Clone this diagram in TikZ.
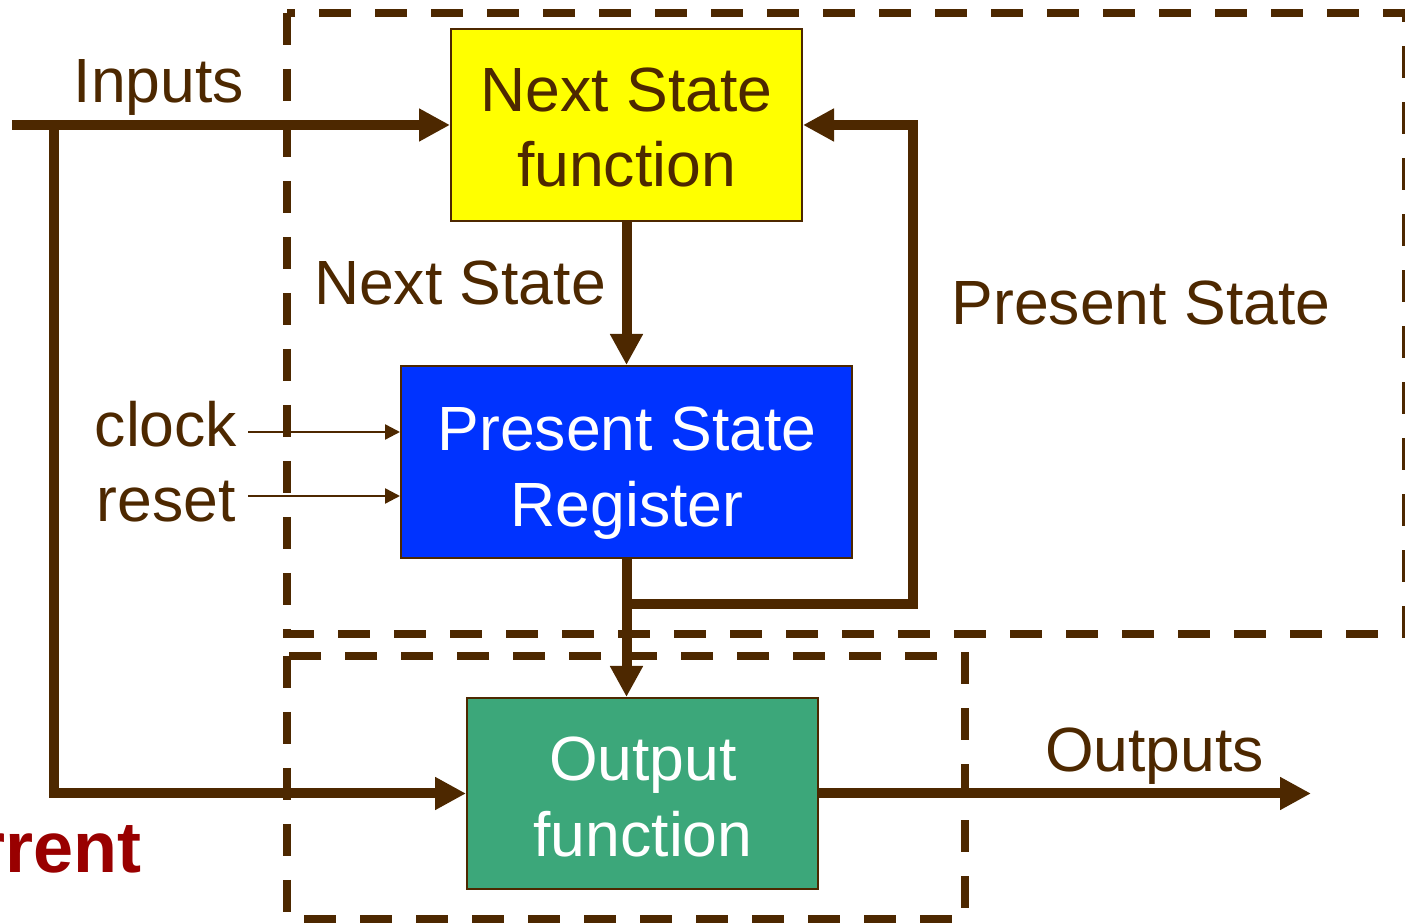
\documentclass[tikz,border=0pt]{standalone}
\usepackage{fontspec}
\setmainfont{Liberation Sans}
\usetikzlibrary{arrows.meta}

\definecolor{wire}{HTML}{4D2800}
\definecolor{nsfill}{HTML}{FFFF00}
\definecolor{regfill}{HTML}{0033FF}
\definecolor{outfill}{HTML}{3CA77A}
\definecolor{note}{HTML}{990000}

\tikzset{
  block/.style={draw=wire, line width=1pt, inner sep=0pt, rectangle},
  txt/.style={inner sep=0pt, text=wire, font=\fontsize{31.25}{37.75}\selectfont},
  bigwire/.style={draw=wire, line width=5pt, line join=miter},
  bigarrow/.style={bigwire, -{Triangle[length=15.5pt,width=15.5pt]}},
  thinarrow/.style={draw=wire, line width=1.2pt, -{Triangle[length=7.5pt,width=7.5pt]}},
  dashbox/.style={draw=wire, line width=4pt, dash pattern=on 16pt off 12pt}
}

\begin{document}
\begin{tikzpicture}[x=0.5pt, y=-0.5pt]
\useasboundingbox (0,0) rectangle (1405,924);

% dashed groupings: state logic (top) and output logic (bottom)
\draw[dashbox] (287,13) rectangle (1406,634);
\draw[dashbox] (287,656) rectangle (965,919);

% blocks
\node[block, fill=nsfill, minimum width=175.5pt, minimum height=96pt] (ns) at (626.5,125) {};
\node[block, fill=regfill, minimum width=225.5pt, minimum height=96pt] (psr) at (626.5,462) {};
\node[block, fill=outfill, minimum width=175.5pt, minimum height=95.5pt] (of) at (642.5,793.5) {};

% block captions
\node[txt, anchor=base] (nsA) at (626.5,112) {Next State};
\node[txt, anchor=base] (nsB) at (626.5,187) {function};
\node[txt, anchor=base, text=white] (psrA) at (627,451) {Present State};
\node[txt, anchor=base, text=white] (psrB) at (627,527) {Register};
\node[txt, anchor=base, text=white] (ofA) at (643,781) {Output};
\node[txt, anchor=base, text=white] (ofB) at (643,857) {function};

% signal labels
\node[txt, anchor=base] (lin) at (159,103) {Inputs};
\node[txt, anchor=base] (lns) at (460,305) {Next State};
\node[txt, anchor=base] (lps) at (1141,325) {Present State};
\node[txt, anchor=base] (lclk) at (166,447) {clock};
\node[txt, anchor=base] (lrst) at (166,522) {reset};
\node[txt, anchor=base] (lout) at (1154.5,772) {Outputs};
\node[inner sep=0pt, anchor=base east, text=note,
      font=\fontsize{36}{43}\selectfont\bfseries] (cur) at (141.5,873) {Current};

% connector end points
\coordinate (inS) at (12,125);
\coordinate (tap) at (54,125);
\coordinate (fbL) at (626.5,604);
\coordinate (fbR) at (913,604);
\coordinate (clk) at (248,432);
\coordinate (rst) at (248,496);
\coordinate (outE) at (1311,793.5);

% connectors
\draw[bigarrow] (inS) -- (ns.west);
\draw[bigarrow] (tap) |- (of.west);
\draw[bigarrow] (ns.south) -- (psr.north);
\draw[bigarrow] (psr.south) -- (psr.south |- of.north);
\draw[bigarrow] (fbL) -- (fbR) |- (ns.east);
\draw[thinarrow] (clk) -- (clk -| psr.west);
\draw[thinarrow] (rst) -- (rst -| psr.west);
\draw[bigarrow] (of.east) -- (outE);
\end{tikzpicture}
\end{document}
